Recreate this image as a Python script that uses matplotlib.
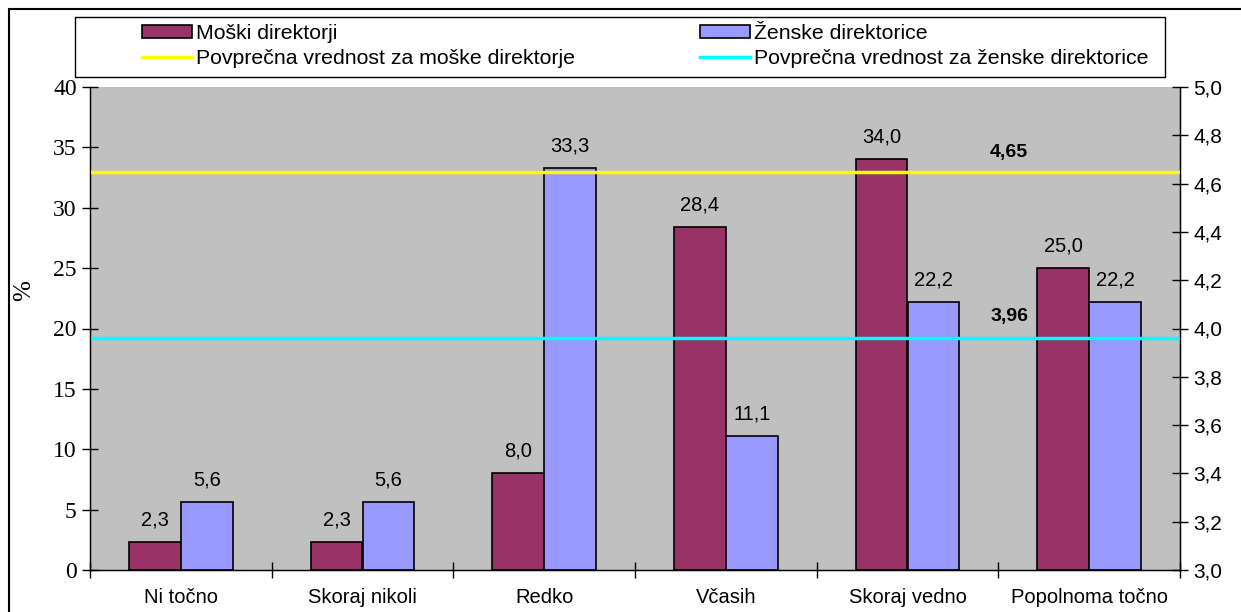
import matplotlib.pyplot as plt
import numpy as np
from matplotlib.patches import Rectangle

categories = ['Ni točno', 'Skoraj nikoli', 'Redko', 'Včasih', 'Skoraj vedno', 'Popolnoma točno']
moski = [2.3, 2.3, 8.0, 28.4, 34.0, 25.0]
zenske = [5.6, 5.6, 33.3, 11.1, 22.2, 22.2]
avg_moski = 4.65
avg_zenske = 3.96

label_m = 'Moški direktorji'
label_z = 'Ženske direktorice'
label_am = 'Povprečna vrednost za moške direktorje'
label_az = 'Povprečna vrednost za ženske direktorice'

plt.rcParams['font.serif'] = ['Liberation Serif', 'DejaVu Serif']
plt.rcParams['font.sans-serif'] = ['Liberation Sans', 'DejaVu Sans']
plt.rcParams['font.family'] = 'sans-serif'
sans = 'sans-serif'
serif = 'serif'

fig = plt.figure(figsize=(12.41, 6.12), dpi=100)
ax = fig.add_axes([90 / 1241, 1 - 570 / 612, 1090 / 1241, 483 / 612])
ax.set_facecolor('#C0C0C0')

x = np.arange(len(categories))
w = 0.286
b1 = ax.bar(x - w / 2, moski, w, color='#993366', edgecolor='black', linewidth=1.2, label=label_m, zorder=2)
b2 = ax.bar(x + w / 2, zenske, w, color='#9999FF', edgecolor='black', linewidth=1.2, label=label_z, zorder=2)

def fmt(v, d=1):
    return f'{v:.{d}f}'.replace('.', ',')

for bars, vals in [(b1, moski), (b2, zenske)]:
    for r, v in zip(bars, vals):
        ax.annotate(fmt(v), (r.get_x() + r.get_width() / 2, v), xytext=(0, 16),
                    textcoords='offset points', ha='center', va='center',
                    fontsize=14.5, family=sans)

ax.set_xlim(-0.5, len(categories) - 0.5)
ax.set_ylim(0, 40)
left_ticks = list(range(0, 41, 5))
ax.set_yticks(left_ticks)
ax.set_yticklabels([str(v) for v in left_ticks], family=serif, fontsize=17)
ax.tick_params(axis='y', direction='inout', length=12, width=1)
ax.set_xticks(x)
ax.set_xticklabels(categories, fontsize=14.5, family=sans)
ax.tick_params(axis='x', length=0, pad=13)
ax.set_xticks(np.arange(-0.5, len(categories)), minor=True)
ax.tick_params(axis='x', which='minor', direction='inout', length=12, width=1)
ax.set_ylabel('%', fontsize=18, family=serif)
ax.yaxis.set_label_coords(-0.05, 0.578)

ax2 = ax.twinx()
ax2.set_ylim(3.0, 5.0)
yt = np.arange(3.0, 5.01, 0.2)
ax2.set_yticks(yt)
ax2.set_yticklabels([fmt(v) for v in yt], fontsize=15, family=sans)
ax2.tick_params(axis='y', direction='inout', length=12, width=1)
l1, = ax2.plot([-0.5, len(categories) - 0.5], [avg_moski, avg_moski], color='#FFFF00', lw=2.5, label=label_am)
l2, = ax2.plot([-0.5, len(categories) - 0.5], [avg_zenske, avg_zenske], color='#00FFFF', lw=2.5, label=label_az)
ax2.text(4.56, avg_moski + 0.08, fmt(avg_moski, 2), fontsize=14, fontweight='bold', family=sans, ha='center', va='center')
ax2.text(4.56, avg_zenske + 0.09, fmt(avg_zenske, 2), fontsize=14, fontweight='bold', family=sans, ha='center', va='center')

for sp in ax.spines.values():
    sp.set_linewidth(1)
ax.spines['top'].set_visible(False)
ax2.spines['top'].set_visible(False)

# legend box drawn by hand, entries placed inside it
fig.patches.append(Rectangle((75 / 1241, 1 - 77 / 612), 1090 / 1241, 60 / 612, transform=fig.transFigure,
                             fill=True, facecolor='white', edgecolor='black', linewidth=1))
leg = fig.legend([b1, l1, b2, l2], [label_m, label_am, label_z, label_az], ncol=2,
                 loc='center left', bbox_to_anchor=(142 / 1241, 1 - 72 / 612, 1007 / 1241, 52 / 612),
                 bbox_transform=fig.transFigure, mode='expand', frameon=False, borderaxespad=0,
                 prop={'family': sans, 'size': 15.3}, handlelength=2.35, handleheight=0.6,
                 handletextpad=0.2, labelspacing=0.3, borderpad=0, columnspacing=1)

fig.patches.append(Rectangle((9 / 1241, -0.1), 1.2, 1 - 9 / 612 + 0.1, transform=fig.transFigure,
                             fill=False, edgecolor='black', linewidth=1.5))

fig.savefig('out.png', dpi=100)
